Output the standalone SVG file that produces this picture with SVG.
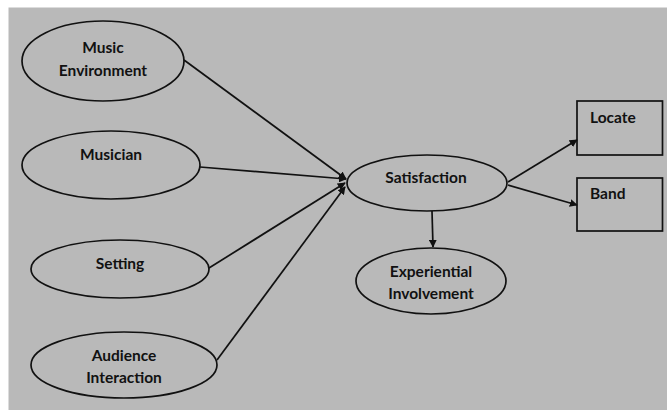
<svg xmlns="http://www.w3.org/2000/svg" width="667" height="410" viewBox="0 0 667 410">
<defs>
<marker id="ah" viewBox="0 0 10 10" refX="9" refY="5" markerWidth="8" markerHeight="8" markerUnits="userSpaceOnUse" orient="auto">
<path d="M0,0 L10,5 L0,10 z" fill="#111"/>
</marker>
</defs>
<style>
.n{fill:none;stroke:#111;stroke-width:1.7}
.t{font-family:Lato,"Open Sans","Liberation Sans",sans-serif;font-weight:bold;font-size:15.5px;fill:#111;text-anchor:middle}
.l{text-anchor:start}
.c{stroke:#111;stroke-width:1.7;fill:none;marker-end:url(#ah)}
</style>
<rect x="0" y="0" width="667" height="410" fill="#ffffff"/>
<rect x="8.5" y="7.5" width="658.5" height="402.5" fill="#b9b9b9"/>
<g id="connectors">
<line class="c" x1="184" y1="60" x2="346" y2="179"/>
<line class="c" x1="200" y1="167" x2="346" y2="179"/>
<line class="c" x1="209" y1="268" x2="345" y2="183"/>
<line class="c" x1="217" y1="360" x2="345" y2="187"/>
<line class="c" x1="432" y1="211" x2="433" y2="247"/>
<line class="c" x1="508" y1="182" x2="577" y2="140"/>
<line class="c" x1="508" y1="185" x2="577" y2="205"/>
</g>
<g id="music-environment">
<ellipse class="n" cx="103" cy="61" rx="81" ry="40"/>
<text class="t" x="103" y="53">Music</text>
<text class="t" x="103" y="76">Environment</text>
</g>
<g id="musician">
<ellipse class="n" cx="111" cy="165" rx="89" ry="34"/>
<text class="t" x="111" y="160">Musician</text>
</g>
<g id="setting">
<ellipse class="n" cx="120" cy="269" rx="89" ry="29"/>
<text class="t" x="120" y="269">Setting</text>
</g>
<g id="audience-interaction">
<ellipse class="n" cx="124" cy="365" rx="93" ry="33"/>
<text class="t" x="124" y="361">Audience</text>
<text class="t" x="124" y="383">Interaction</text>
</g>
<g id="satisfaction">
<ellipse class="n" cx="427" cy="183" rx="80" ry="28"/>
<text class="t" x="426" y="183">Satisfaction</text>
</g>
<g id="experiential-involvement">
<ellipse class="n" cx="431" cy="281" rx="75" ry="33"/>
<text class="t" x="431" y="277">Experiential</text>
<text class="t" x="431" y="299">Involvement</text>
</g>
<g id="locate">
<rect class="n" x="577" y="101" width="85.5" height="54"/>
<text class="t l" x="590" y="123">Locate</text>
</g>
<g id="band">
<rect class="n" x="577" y="178" width="85.5" height="53"/>
<text class="t l" x="590" y="199">Band</text>
</g>
</svg>
